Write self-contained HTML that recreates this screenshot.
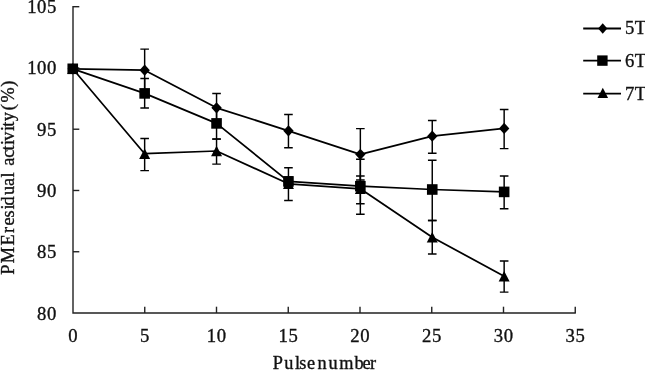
<!DOCTYPE html>
<html><head><meta charset="utf-8"><title>PME residual activity</title>
<style>
html,body{margin:0;padding:0;background:#fff;}
body{width:645px;height:370px;overflow:hidden;}
svg{display:block;}
text{font-family:"Liberation Serif","Times New Roman",serif;fill:#111;stroke:#111;stroke-width:0.35px;}
</style></head><body>
<svg width="645" height="370" viewBox="0 0 645 370">
<rect width="645" height="370" fill="#fff"/>
<g stroke="#222" stroke-width="1.4" fill="none">
<path d="M73.0 6.1000000000000005V313.0H575.85"/>
<path d="M73.0 6.70h6.3"/>
<path d="M73.0 67.96h6.3"/>
<path d="M73.0 129.22h6.3"/>
<path d="M73.0 190.48h6.3"/>
<path d="M73.0 251.74h6.3"/>
<path d="M144.75 313.0v-6.3"/>
<path d="M216.50 313.0v-6.3"/>
<path d="M288.25 313.0v-6.3"/>
<path d="M360.00 313.0v-6.3"/>
<path d="M431.75 313.0v-6.3"/>
<path d="M503.50 313.0v-6.3"/>
<path d="M575.25 313.0v-6.3"/>
</g>
<g font-size="18.7" letter-spacing="0.6">
<text x="57.0" y="13.20" text-anchor="end">105</text>
<text x="57.0" y="74.46" text-anchor="end">100</text>
<text x="57.0" y="135.72" text-anchor="end">95</text>
<text x="57.0" y="196.98" text-anchor="end">90</text>
<text x="57.0" y="258.24" text-anchor="end">85</text>
<text x="57.0" y="319.50" text-anchor="end">80</text>
<text x="73.30" y="342" text-anchor="middle">0</text>
<text x="145.05" y="342" text-anchor="middle">5</text>
<text x="216.80" y="342" text-anchor="middle">10</text>
<text x="288.55" y="342" text-anchor="middle">15</text>
<text x="360.30" y="342" text-anchor="middle">20</text>
<text x="432.05" y="342" text-anchor="middle">25</text>
<text x="503.80" y="342" text-anchor="middle">30</text>
<text x="575.55" y="342" text-anchor="middle">35</text>
</g>
<text x="272.8 284.15 295.1 299.2 306.9 314.5 317.5 328.55 339.3 354.5 362.4 370.1" y="369.2" font-size="18.3">Pulse number</text>
<text transform="translate(13.7 275) rotate(-90)" x="0.3 11.7 29.5 39.5 41.9 49.6 57.6 65.4 69.6 79.9 89.1 97.5 104.5 109.2 117.3 124.6 129.9 134.3 144.0 148.3 153.7 164.7 172.5 188.2" y="0" font-size="18.3">PME residual activity(%)</text>
<g stroke="#000" stroke-width="1.45" fill="none">
<path d="M140.35 49.1h8.6M140.35 91.3h8.6M144.65 49.1V91.3"/>
<path d="M212.25 93.5h8.6M212.25 122.0h8.6M216.55 93.5V122.0"/>
<path d="M284.15 114.5h8.6M284.15 147.7h8.6M288.45 114.5V147.7"/>
<path d="M356.05 128.6h8.6M356.05 180.0h8.6M360.35 128.6V180.0"/>
<path d="M427.95 120.4h8.6M427.95 153.2h8.6M432.25 120.4V153.2"/>
<path d="M499.85 109.5h8.6M499.85 148.6h8.6M504.15 109.5V148.6"/>
<path d="M140.35 78.4h8.6M140.35 107.9h8.6M144.65 78.4V107.9"/>
<path d="M212.25 107.8h8.6M212.25 139.0h8.6M216.55 107.8V139.0"/>
<path d="M284.15 177.0h8.6M284.15 186.0h8.6M288.45 177.0V186.0"/>
<path d="M356.05 159.2h8.6M356.05 214.3h8.6M360.35 159.2V214.3"/>
<path d="M427.95 160.2h8.6M427.95 220.4h8.6M432.25 160.2V220.4"/>
<path d="M499.85 176.0h8.6M499.85 208.8h8.6M504.15 176.0V208.8"/>
<path d="M140.35 138.5h8.6M140.35 170.6h8.6M144.65 138.5V170.6"/>
<path d="M212.25 139.1h8.6M212.25 164.1h8.6M216.55 139.1V164.1"/>
<path d="M284.15 167.7h8.6M284.15 200.4h8.6M288.45 167.7V200.4"/>
<path d="M356.05 176.0h8.6M356.05 203.7h8.6M360.35 176.0V203.7"/>
<path d="M427.95 220.4h8.6M427.95 253.9h8.6M432.25 220.4V253.9"/>
<path d="M499.85 261.0h8.6M499.85 292.1h8.6M504.15 261.0V292.1"/>
</g>
<g stroke="#000" stroke-width="1.75" fill="none" stroke-linejoin="round">
<polyline points="72.75,68.8 144.65,70.2 216.55,107.8 288.45,130.8 360.35,154.3 432.25,136.2 504.15,128.4"/>
<polyline points="72.75,68.8 144.65,93.4 216.55,123.4 288.45,181.4 360.35,186.2 432.25,189.5 504.15,191.9"/>
<polyline points="72.75,68.8 144.65,153.7 216.55,151.0 288.45,183.8 360.35,188.8 432.25,237.2 504.15,276.3"/>
</g>
<g fill="#000">
<path d="M72.75 63.20L77.95 68.80L72.75 74.40L67.55 68.80Z"/>
<path d="M144.65 64.60L149.85 70.20L144.65 75.80L139.45 70.20Z"/>
<path d="M216.55 102.20L221.75 107.80L216.55 113.40L211.35 107.80Z"/>
<path d="M288.45 125.20L293.65 130.80L288.45 136.40L283.25 130.80Z"/>
<path d="M360.35 148.70L365.55 154.30L360.35 159.90L355.15 154.30Z"/>
<path d="M432.25 130.60L437.45 136.20L432.25 141.80L427.05 136.20Z"/>
<path d="M504.15 122.80L509.35 128.40L504.15 134.00L498.95 128.40Z"/>
<rect x="67.45" y="63.50" width="10.6" height="10.6"/>
<rect x="139.35" y="88.10" width="10.6" height="10.6"/>
<rect x="211.25" y="118.10" width="10.6" height="10.6"/>
<rect x="283.15" y="176.10" width="10.6" height="10.6"/>
<rect x="355.05" y="180.90" width="10.6" height="10.6"/>
<rect x="426.95" y="184.20" width="10.6" height="10.6"/>
<rect x="498.85" y="186.60" width="10.6" height="10.6"/>
<path d="M72.75 63.60L78.25 74.00H67.25Z"/>
<path d="M144.65 148.50L150.15 158.90H139.15Z"/>
<path d="M216.55 145.80L222.05 156.20H211.05Z"/>
<path d="M288.45 178.60L293.95 189.00H282.95Z"/>
<path d="M360.35 183.60L365.85 194.00H354.85Z"/>
<path d="M432.25 232.00L437.75 242.40H426.75Z"/>
<path d="M504.15 271.10L509.65 281.50H498.65Z"/>
</g>
<g stroke="#000" stroke-width="1.9">
<path d="M583.2 28.5H621"/>
<path d="M583.2 60.6H621"/>
<path d="M583.2 93.6H621"/>
</g>
<g fill="#000">
<path d="M602.70 23.20L607.30 28.50L602.70 33.80L598.10 28.50Z"/>
<rect x="597.20" y="55.40" width="10.4" height="10.4"/>
<path d="M602.80 87.70L608.10 97.90H597.50Z"/>
</g>
<g font-size="18.7" letter-spacing="0.3">
<text x="625.1" y="34.4">5T</text>
<text x="625.1" y="66.6">6T</text>
<text x="625.1" y="99.6">7T</text>
</g>
</svg>
</body></html>
